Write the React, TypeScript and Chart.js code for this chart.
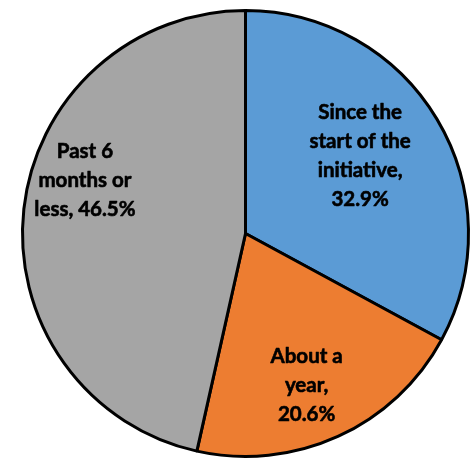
import React, { useEffect, useRef } from "react";
import { Chart, registerables } from "chart.js";

Chart.register(...registerables);

const categories = ["Since the start of the initiative", "About a year", "Past 6 months or less"];
const values = [32.9, 20.6, 46.5];
const labelLines = [
  ["Since the", "start of the", "initiative,", "32.9%"],
  ["About a", "year,", "20.6%"],
  ["Past 6", "months or", "less, 46.5%"],
];
const colors = ["#5B9BD5", "#ED7D31", "#A5A5A5"];

const labelAnchors = [
  [0.514, -0.35],
  [0.274, 0.68],
  [-0.72, -0.24],
];

const labelPlugin = {
  id: "sliceLabels",
  afterDatasetsDraw(chart: any) {
    const meta = chart.getDatasetMeta(0);
    const ctx = chart.ctx;
    ctx.save();
    ctx.font = "bold 20.5px Lato";
    ctx.fillStyle = "#000";
    ctx.strokeStyle = "#000";
    ctx.lineWidth = 0.6;
    ctx.lineJoin = "round";
    ctx.textAlign = "center";
    ctx.textBaseline = "middle";
    meta.data.forEach((arc: any, i: number) => {
      const r = arc.outerRadius;
      const cx = arc.x + labelAnchors[i][0] * r;
      const cy = arc.y + labelAnchors[i][1] * r;
      const lines = labelLines[i];
      const lh = 29;
      const start = cy - ((lines.length - 1) * lh) / 2;
      lines.forEach((t, k) => {
        ctx.fillText(t, cx, start + k * lh);
        ctx.strokeText(t, cx, start + k * lh);
      });
    });
    ctx.restore();
  },
};

export default function App() {
  const ref = useRef<HTMLCanvasElement>(null);
  useEffect(() => {
    if (!ref.current) return;
    const chart = new Chart(ref.current, {
      type: "pie",
      data: {
        labels: categories,
        datasets: [
          {
            data: values,
            backgroundColor: colors,
            borderColor: "#000",
            borderWidth: 3,
          },
        ],
      },
      options: {
        responsive: false,
        animation: false,
        layout: { padding: { left: 21, right: 2, top: 9, bottom: 3 } },
        plugins: {
          legend: { display: false },
          tooltip: { enabled: false },
        },
      },
      plugins: [labelPlugin],
    });
    return () => chart.destroy();
  }, []);
  return (
    <div style={{ position: "fixed", left: 0, top: 0, width: 472, height: 461, background: "#fff" }}>
      <canvas ref={ref} width={472} height={461} style={{ display: "block" }} />
    </div>
  );
}
